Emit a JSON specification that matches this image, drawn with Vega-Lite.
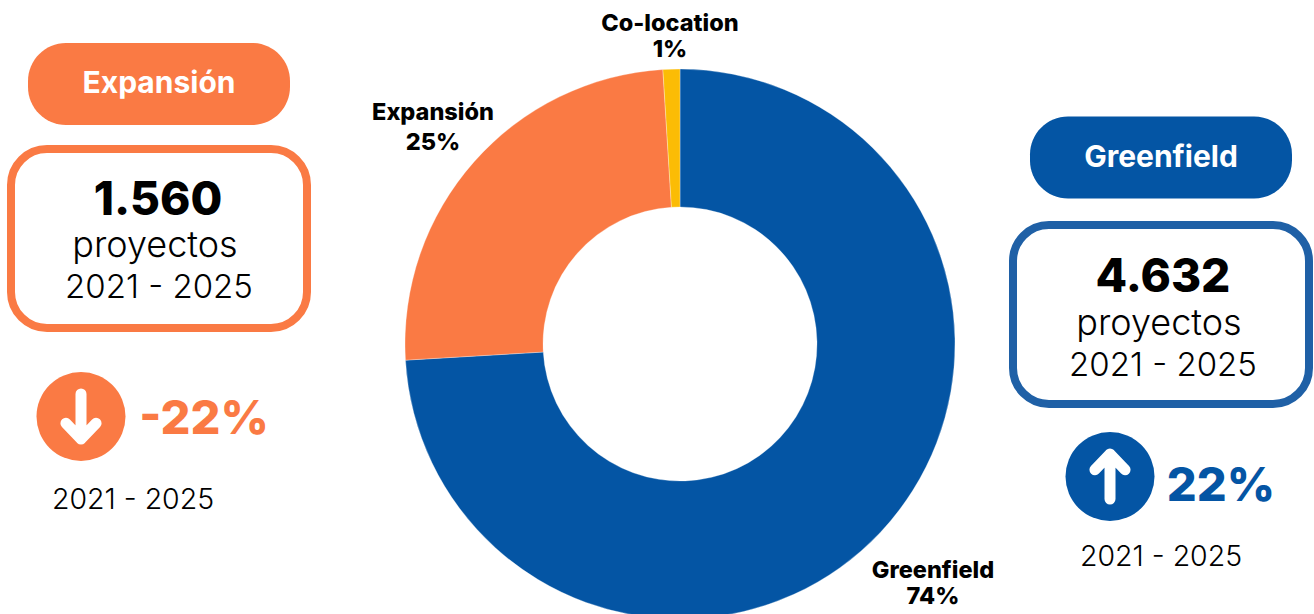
{"$schema":"https://vega.github.io/schema/vega-lite/v6.json","width":1314,"height":614,"autosize":{"type":"none"},"padding":0,"background":"white","view":{"stroke":null},
"data":{"values":[
{"group":"Greenfield","projects":4632,"projects_label":"4.632","unit":"proyectos","period":"2021 - 2025","change":"22%","label":"Greenfield\n74%"},
{"group":"Expansión","projects":1560,"projects_label":"1.560","unit":"proyectos","period":"2021 - 2025","change":"-22%","label":"Expansión\n25%"},
{"group":"Co-location","projects":62,"label":"Co-location\n1%"}]},
"config":{"axis":{"disable":true},"legend":{"disable":true},"text":{"font":"Inter"}},
"resolve":{"scale":{"x":"independent","y":"independent"}},
"layer":[
{"mark":{"type":"arc","radius":275,"radius2":137,"stroke":"white","strokeWidth":0.3},
"encoding":{"theta":{"field":"projects","type":"quantitative","stack":true},
"order":{"field":"projects","sort":"descending"},
"x":{"datum":"donut","scale":{"type":"point","domain":["donut"],"range":[680,680]}},
"y":{"datum":"donut","scale":{"type":"point","domain":["donut"],"range":[344,344]}},
"fill":{"field":"group","type":"nominal","scale":{"domain":["Greenfield","Expansión","Co-location"],"range":["#0455A4","#FA7A44","#FBBC05"]}}}},
{"transform":[{"filter":"datum.group !== 'Co-location'"}],
"mark":{"type":"bar","width":262,"height":82,"cornerRadius":38},
"encoding":{"x":{"field":"group","type":"nominal","scale":{"type":"point","padding":0,"domain":["Expansión","Greenfield"],"range":[159,1161]}},
"y":{"field":"group","type":"nominal","scale":{"type":"point","padding":0,"domain":["Expansión","Greenfield"],"range":[84,157.5]}},
"fill":{"field":"group","type":"nominal"}}},
{"transform":[{"filter":"datum.group !== 'Co-location'"}],
"mark":{"type":"bar","width":296,"height":179,"cornerRadius":36,"fill":"white","strokeWidth":8},
"encoding":{"x":{"field":"group","type":"nominal","scale":{"type":"point","padding":0,"domain":["Expansión","Greenfield"],"range":[159,1161]}},
"y":{"field":"group","type":"nominal","scale":{"type":"point","padding":0,"domain":["Expansión","Greenfield"],"range":[238.5,314.5]}},
"stroke":{"field":"group","type":"nominal","scale":{"domain":["Expansión","Greenfield"],"range":["#FA7A44","#1F60A6"]}}}},
{"transform":[{"filter":"datum.group !== 'Co-location'"}],
"mark":{"type":"point","shape":"circle","filled":true,"size":7921,"opacity":1},
"encoding":{"x":{"field":"group","type":"nominal","scale":{"type":"point","padding":0,"domain":["Expansión","Greenfield"],"range":[81,1110]}},
"y":{"field":"group","type":"nominal","scale":{"type":"point","padding":0,"domain":["Expansión","Greenfield"],"range":[416.5,476.5]}},
"fill":{"field":"group","type":"nominal"}}},
{"transform":[{"filter":"datum.group !== 'Co-location'"}],
"mark":{"type":"point","filled":false,"size":2025,"stroke":"white","strokeWidth":11,"strokeCap":"round","strokeJoin":"round","opacity":1},
"encoding":{"x":{"field":"group","type":"nominal","scale":{"type":"point","padding":0,"domain":["Expansión","Greenfield"],"range":[81,1110]}},
"y":{"field":"group","type":"nominal","scale":{"type":"point","padding":0,"domain":["Expansión","Greenfield"],"range":[416.5,476.5]}},
"shape":{"field":"group","type":"nominal","scale":{"domain":["Expansión","Greenfield"],"range":["M0,-1L0,1M-0.67,0.3L0,1L0.67,0.3","M0,1L0,-1M-0.67,-0.3L0,-1L0.67,-0.3"]}}}},
{"transform":[{"filter":"datum.group !== 'Co-location'"}],
"mark":{"type":"text","fontSize":30,"fontWeight":700,"fill":"white","baseline":"alphabetic"},
"encoding":{"text":{"field":"group"},"x":{"field":"group","type":"nominal","scale":{"type":"point","padding":0,"domain":["Expansión","Greenfield"],"range":[159,1161]}},
"y":{"field":"group","type":"nominal","scale":{"type":"point","padding":0,"domain":["Expansión","Greenfield"],"range":[93,167]}}}},
{"transform":[{"filter":"datum.group !== 'Co-location'"}],
"mark":{"type":"text","fontSize":46,"fontWeight":800,"fill":"black","baseline":"alphabetic"},
"encoding":{"text":{"field":"projects_label"},"x":{"field":"group","type":"nominal","scale":{"type":"point","padding":0,"domain":["Expansión","Greenfield"],"range":[158,1163]}},
"y":{"field":"group","type":"nominal","scale":{"type":"point","padding":0,"domain":["Expansión","Greenfield"],"range":[215,292]}}}},
{"transform":[{"filter":"datum.group !== 'Co-location'"}],
"mark":{"type":"text","fontSize":36,"fontWeight":300,"fill":"black","baseline":"alphabetic"},
"encoding":{"text":{"field":"unit"},"x":{"field":"group","type":"nominal","scale":{"type":"point","padding":0,"domain":["Expansión","Greenfield"],"range":[155,1159]}},
"y":{"field":"group","type":"nominal","scale":{"type":"point","padding":0,"domain":["Expansión","Greenfield"],"range":[257,335]}}}},
{"transform":[{"filter":"datum.group !== 'Co-location'"}],
"mark":{"type":"text","fontSize":33,"fontWeight":300,"fill":"black","baseline":"alphabetic"},
"encoding":{"text":{"field":"period"},"x":{"field":"group","type":"nominal","scale":{"type":"point","padding":0,"domain":["Expansión","Greenfield"],"range":[159,1163]}},
"y":{"field":"group","type":"nominal","scale":{"type":"point","padding":0,"domain":["Expansión","Greenfield"],"range":[298,376]}}}},
{"transform":[{"filter":"datum.group !== 'Co-location'"}],
"mark":{"type":"text","fontSize":47,"fontWeight":800,"baseline":"alphabetic"},
"encoding":{"text":{"field":"change"},"x":{"field":"group","type":"nominal","scale":{"type":"point","padding":0,"domain":["Expansión","Greenfield"],"range":[204,1221]}},
"y":{"field":"group","type":"nominal","scale":{"type":"point","padding":0,"domain":["Expansión","Greenfield"],"range":[434,501]}},
"fill":{"field":"group","type":"nominal"}}},
{"transform":[{"filter":"datum.group !== 'Co-location'"}],
"mark":{"type":"text","fontSize":28.5,"fontWeight":300,"fill":"black","baseline":"alphabetic"},
"encoding":{"text":{"field":"period"},"x":{"field":"group","type":"nominal","scale":{"type":"point","padding":0,"domain":["Expansión","Greenfield"],"range":[133,1161]}},
"y":{"field":"group","type":"nominal","scale":{"type":"point","padding":0,"domain":["Expansión","Greenfield"],"range":[509,566]}}}},
{"transform":[{"filter":"datum.group === 'Expansión'"}],
"mark":{"type":"text","fontSize":23.5,"fontWeight":800,"fill":"black","baseline":"alphabetic","lineBreak":"\n","lineHeight":30},
"encoding":{"text":{"field":"label"},"x":{"field":"group","type":"nominal","scale":{"type":"point","domain":["Expansión"],"range":[433,433]}},
"y":{"field":"group","type":"nominal","scale":{"type":"point","domain":["Expansión"],"range":[120,120]}}}},
{"transform":[{"filter":"datum.group !== 'Expansión'"}],
"mark":{"type":"text","fontSize":23.5,"fontWeight":800,"fill":"black","baseline":"alphabetic","lineBreak":"\n","lineHeight":26},
"encoding":{"text":{"field":"label"},"x":{"field":"group","type":"nominal","scale":{"type":"point","padding":0,"domain":["Co-location","Greenfield"],"range":[670,933]}},
"y":{"field":"group","type":"nominal","scale":{"type":"point","padding":0,"domain":["Co-location","Greenfield"],"range":[31,578]}}}}
]}
